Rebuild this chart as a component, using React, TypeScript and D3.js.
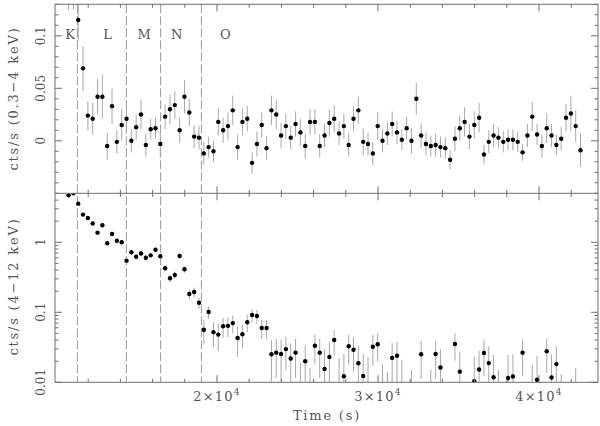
import * as d3 from 'd3';

const W = 600;
const H = 426;

// light curve binning (s)
const BIN_START = 10780;
const BIN_WIDTH = 300;

// 0.3-4 keV rate and 1-sigma error per bin
const softRate = [
  0.175, 0.165, 0.115, 0.069, 0.024, 0.021, 0.042, 0.042, -0.005, 0.033,
  -0.001, 0.015, 0.021, 0.0, 0.013, 0.025, -0.004, 0.011, 0.012, -0.003,
  0.023, 0.03, 0.034, 0.01, 0.042, 0.027, 0.004, 0.003, -0.012, -0.006,
  -0.01, 0.018, 0.01, 0.014, 0.029, -0.006, 0.018, 0.021, -0.021, -0.003,
  0.015, -0.007, 0.029, 0.025, 0.005, 0.014, 0.003, 0.016, 0.008, -0.005,
  0.018, 0.018, -0.005, 0.005, 0.017, 0.021, 0.007, 0.014, -0.004, 0.021,
  0.029, -0.001, -0.003, -0.012, 0.014, 0.0, 0.007, 0.016, 0.008, 0.001,
  0.012, 0.0, 0.04, 0.005, -0.003, -0.005, -0.004, -0.006, -0.007, -0.018,
  0.002, 0.012, 0.018, 0.004, 0.015, 0.022, -0.013, -0.001, 0.005, 0.003,
  -0.001, 0.001, 0.001, -0.001, -0.011, 0.005, 0.023, 0.006, -0.005, 0.012,
  0.005, -0.004, 0.002, 0.022, 0.026, 0.014, -0.009,
];
const softErr = [
  0.05, 0.04, 0.02, 0.021, 0.014, 0.015, 0.017, 0.021, 0.013, 0.017,
  0.011, 0.015, 0.014, 0.011, 0.012, 0.014, 0.011, 0.01, 0.01, 0.012,
  0.012, 0.014, 0.013, 0.012, 0.016, 0.013, 0.011, 0.011, 0.011, 0.01,
  0.01, 0.013, 0.012, 0.013, 0.014, 0.012, 0.013, 0.012, 0.01, 0.012,
  0.012, 0.011, 0.014, 0.014, 0.012, 0.012, 0.011, 0.012, 0.013, 0.012,
  0.012, 0.012, 0.011, 0.011, 0.013, 0.013, 0.011, 0.012, 0.011, 0.012,
  0.013, 0.013, 0.011, 0.011, 0.013, 0.011, 0.011, 0.012, 0.011, 0.01,
  0.011, 0.012, 0.015, 0.012, 0.011, 0.01, 0.011, 0.01, 0.01, 0.009,
  0.012, 0.012, 0.014, 0.012, 0.013, 0.014, 0.009, 0.011, 0.011, 0.01,
  0.01, 0.01, 0.01, 0.01, 0.008, 0.011, 0.014, 0.01, 0.011, 0.014,
  0.011, 0.01, 0.011, 0.013, 0.017, 0.015, 0.016,
];

// 4-12 keV rate and 1-sigma error per bin
const hardRate = [
  4.69, 5.0, 3.56, 2.48, 2.22, 1.85, 1.37, 1.75, 0.97, 1.31,
  1.05, 1.0, 0.546, 0.72, 0.62, 0.69, 0.6, 0.65, 0.78, 0.63,
  0.425, 0.306, 0.341, 0.637, 0.411, 0.182, 0.195, 0.137, 0.0564, 0.101,
  0.052, 0.048, 0.063, 0.064, 0.07, 0.043, 0.0485, 0.072, 0.0915, 0.0885,
  0.0597, 0.0597, 0.0252, 0.0265, 0.0254, 0.0298, 0.0219, 0.0265, 0.003, 0.02,
  0.002, 0.0333, 0.0265, 0.0155, 0.023, 0.0402, 0.004, 0.0122, 0.0327, 0.0292,
  0.0187, 0.0123, 0.005, 0.0322, 0.0349, 0.003, 0.002, 0.0223, 0.024, 0.005,
  -0.004, 0.003, -0.005, 0.0251, -0.006, 0.003, 0.0254, 0.0163, -0.005, -0.004,
  0.0353, 0.0142, -0.006, -0.005, 0.0104, 0.0152, 0.0262, 0.0188, 0.0118, 0.003,
  -0.005, 0.0115, 0.0121, -0.006, 0.0265, -0.005, 0.004, 0.0109, -0.006, 0.0277,
  0.0117, 0.0182, 0.002, -0.005, -0.006, 0.003, -0.005,
];
const hardErr = [
  0.15, 0.15, 0.13, 0.11, 0.1, 0.09, 0.08, 0.09, 0.07, 0.08,
  0.07, 0.07, 0.05, 0.06, 0.05, 0.06, 0.05, 0.05, 0.06, 0.05,
  0.045, 0.04, 0.04, 0.05, 0.045, 0.03, 0.03, 0.025, 0.022, 0.02,
  0.02, 0.02, 0.02, 0.02, 0.02, 0.02, 0.018, 0.02, 0.02, 0.02,
  0.018, 0.018, 0.015, 0.015, 0.015, 0.015, 0.014, 0.015, 0.016, 0.014,
  0.014, 0.015, 0.015, 0.014, 0.014, 0.016, 0.018, 0.013, 0.015, 0.015,
  0.014, 0.013, 0.018, 0.015, 0.015, 0.015, 0.012, 0.014, 0.014, 0.016,
  0.012, 0.012, 0.012, 0.014, 0.012, 0.012, 0.014, 0.013, 0.012, 0.012,
  0.015, 0.013, 0.012, 0.012, 0.013, 0.013, 0.014, 0.014, 0.013, 0.012,
  0.012, 0.013, 0.013, 0.012, 0.014, 0.012, 0.014, 0.013, 0.012, 0.014,
  0.013, 0.014, 0.011, 0.012, 0.012, 0.013, 0.012,
];

// phase boundaries and labels
const phaseEdges = [11330, 14370, 16500, 19030];
const phaseNames = ['K', 'L', 'M', 'N', 'O'];
const phaseLabelTimes = [10870, 13200, 15470, 17500, 20520];

const softTicks = [0, 0.05, 0.1];
const softTickLabels = ['0', '0.05', '0.1'];
const hardTicks = [0.01, 0.1, 1];
const hardTickLabels = ['0.01', '0.1', '1'];
const timeTicks = [20000, 30000, 40000];
const timeTickMantissa = ['2', '3', '4'];

const LEFT = 55;
const RIGHT = 598;
const TOP = 4.3;
const MID = 193.3;
const BOTTOM = 382.3;
const MAJOR = 7;
const MINOR = 3.5;

const AXIS = '#6e6e6e';
const ERR = '#a8a8a8';
const DASH = '#9a9a9a';
const TEXT = '#555';
const FONT = '"DejaVu Serif", serif';

const x = d3.scaleLinear().domain([9938, 43665]).range([LEFT, RIGHT]);
const ySoft = d3.scaleLinear().domain([-0.05, 0.13]).range([MID, TOP]);
const yHard = d3.scaleLog().domain([0.01, 5]).range([BOTTOM, MID]);

const binTime = (i: number) => BIN_START + BIN_WIDTH * i;

const timeMinor = d3.range(10000, 44000, 2000).filter((t) => t % 10000 !== 0);
const softMinor = d3.range(-5, 14).map((k) => k / 100).filter((v) => Math.abs(v * 20 - Math.round(v * 20)) > 1e-6);
const hardMinor: number[] = [];
[0.01, 0.1, 1].forEach((d) => {
  for (let m = 2; m <= 9; m++) if (d * m <= 5) hardMinor.push(d * m);
});

function XTicks({ y0, y1 }: { y0: number; y1: number }) {
  // ticks on the lower edge (pointing up) and upper edge (pointing down)
  return (
    <g stroke={AXIS} strokeWidth={1}>
      {timeTicks.map((t) => (
        <g key={'M' + t}>
          <line x1={x(t)} x2={x(t)} y1={y1} y2={y1 - MAJOR} />
          <line x1={x(t)} x2={x(t)} y1={y0} y2={y0 + MAJOR} />
        </g>
      ))}
      {timeMinor.map((t) => (
        <g key={'m' + t}>
          <line x1={x(t)} x2={x(t)} y1={y1} y2={y1 - MINOR} />
          <line x1={x(t)} x2={x(t)} y1={y0} y2={y0 + MINOR} />
        </g>
      ))}
    </g>
  );
}

function YTicks({ scale, major, minor }: { scale: (v: number) => number; major: number[]; minor: number[] }) {
  return (
    <g stroke={AXIS} strokeWidth={1}>
      {major.map((v) => (
        <g key={'M' + v}>
          <line x1={LEFT} x2={LEFT + MAJOR} y1={scale(v)} y2={scale(v)} />
          <line x1={RIGHT} x2={RIGHT - MAJOR} y1={scale(v)} y2={scale(v)} />
        </g>
      ))}
      {minor.map((v) => (
        <g key={'m' + v}>
          <line x1={LEFT} x2={LEFT + MINOR} y1={scale(v)} y2={scale(v)} />
          <line x1={RIGHT} x2={RIGHT - MINOR} y1={scale(v)} y2={scale(v)} />
        </g>
      ))}
    </g>
  );
}

export default function App() {
  const hardLow = (v: number, e: number) => yHard(Math.max(v - e, 0.001));

  return (
    <svg width={W} height={H} style={{ position: 'absolute', left: 0, top: 0, background: '#fff' }}>
      <defs>
        <clipPath id="clipSoft">
          <rect x={LEFT} y={TOP} width={RIGHT - LEFT} height={MID - TOP} />
        </clipPath>
        <clipPath id="clipHard">
          <rect x={LEFT} y={MID} width={RIGHT - LEFT} height={BOTTOM - MID} />
        </clipPath>
      </defs>

      {/* phase boundaries */}
      <g stroke={DASH} strokeWidth={1} strokeDasharray="9,3">
        {phaseEdges.map((t) => (
          <line key={t} x1={x(t)} x2={x(t)} y1={TOP} y2={BOTTOM} />
        ))}
      </g>

      {/* soft band */}
      <g clipPath="url(#clipSoft)">
        <g stroke={ERR} strokeWidth={1}>
          {softRate.map((v, i) => (
            <line key={i} x1={x(binTime(i))} x2={x(binTime(i))} y1={ySoft(v - softErr[i])} y2={ySoft(v + softErr[i])} />
          ))}
        </g>
        <g fill="#000">
          {softRate.map((v, i) => (
            <circle key={i} cx={x(binTime(i))} cy={ySoft(v)} r={2.2} />
          ))}
        </g>
      </g>

      {/* hard band */}
      <g clipPath="url(#clipHard)">
        <g stroke={ERR} strokeWidth={1}>
          {hardRate.map((v, i) =>
            v + hardErr[i] > 0.01 ? (
              <line key={i} x1={x(binTime(i))} x2={x(binTime(i))} y1={hardLow(v, hardErr[i])} y2={yHard(v + hardErr[i])} />
            ) : null
          )}
        </g>
        <g fill="#000">
          {hardRate.map((v, i) =>
            v >= 0.01 ? <circle key={i} cx={x(binTime(i))} cy={yHard(v)} r={2.2} /> : null
          )}
        </g>
      </g>

      {/* frames and ticks */}
      <rect x={LEFT} y={TOP} width={RIGHT - LEFT} height={BOTTOM - TOP} fill="none" stroke={AXIS} strokeWidth={1} />
      <line x1={LEFT} x2={RIGHT} y1={MID} y2={MID} stroke={AXIS} strokeWidth={1} />
      <XTicks y0={TOP} y1={MID} />
      <XTicks y0={MID} y1={BOTTOM} />
      <YTicks scale={ySoft} major={softTicks} minor={softMinor} />
      <YTicks scale={yHard} major={hardTicks} minor={hardMinor} />

      {/* text */}
      <g fill={TEXT} fontFamily={FONT}>
        {phaseNames.map((n, i) => (
          <text key={n} x={x(phaseLabelTimes[i])} y={39.3} fontSize={13} textAnchor="middle">
            {n}
          </text>
        ))}
        {softTicks.map((v, i) => (
          <text key={v} transform={`translate(45,${ySoft(v)}) rotate(-90)`} fontSize={12} textAnchor="middle">
            {softTickLabels[i]}
          </text>
        ))}
        {hardTicks.map((v, i) => (
          <text key={v} transform={`translate(45,${yHard(v)}) rotate(-90)`} fontSize={12} textAnchor="middle">
            {hardTickLabels[i]}
          </text>
        ))}
        <text transform="translate(18,98.5) rotate(-90)" fontSize={13} letterSpacing={1.8} textAnchor="middle">
          cts/s (0.3−4 keV)
        </text>
        <text transform="translate(18,286.5) rotate(-90)" fontSize={13} letterSpacing={1.8} textAnchor="middle">
          cts/s (4−12 keV)
        </text>
        {timeTicks.map((t, i) => (
          <text key={t} x={x(t)} y={401} fontSize={13} letterSpacing={1.2} textAnchor="middle">
            {timeTickMantissa[i]}×10
            <tspan dy={-6} fontSize={9}>
              4
            </tspan>
          </text>
        ))}
        <text x={327} y={420} fontSize={13} letterSpacing={1.8} textAnchor="middle">
          Time (s)
        </text>
      </g>
    </svg>
  );
}
